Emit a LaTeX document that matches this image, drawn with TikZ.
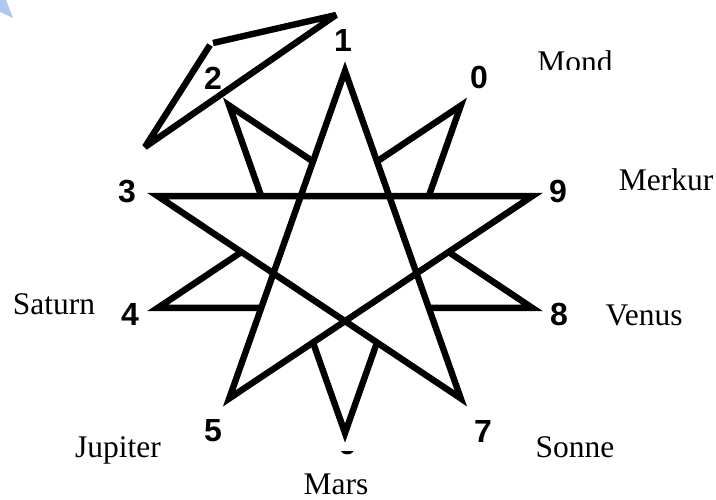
\documentclass[tikz,border=0pt]{standalone}
\usepackage{fontspec}
\setmainfont{Liberation Serif}
\newfontfamily\DekaDigitFont{Liberation Sans}

\definecolor{dksmearblue}{RGB}{176,200,240}
\def\DekaStarLW{3.2pt}
\def\DekaDigitSize{16}
\def\DekaPlanetSize{15.75}
\newcommand{\DekaStarStyles}{%
  \tikzset{
    dkline/.style={draw=black, line width=\DekaStarLW,
      line join=miter, line cap=butt},
    dkfront/.style={dkline, fill=white},
    dktriangle/.style={dkline, line join=bevel},
    dkdigit/.style={inner sep=0pt,
      font=\DekaDigitFont\bfseries\fontsize{\DekaDigitSize}{18}\selectfont},
    dkplanet/.style={inner sep=0pt, anchor=base,
      font=\fontsize{\DekaPlanetSize}{18}\selectfont},
    dksmear/.style={draw=none, fill=dksmearblue},
  }%
}

\begin{document}
\begin{tikzpicture}[x=0.5pt, y=0.5pt]
  \DekaStarStyles
  \useasboundingbox (0,0) rectangle (716,499);

  \coordinate (c) at (345,247);
  \foreach \i/\a in {1/90, 0/54, 9/18, 8/-18, 7/-54,
                     6/-90, 5/-126, 4/-162, 3/162, 2/126}
    \path (c) ++(\a:197 and 181) coordinate (v\i);

  % back pentagram, only the tips stay visible
  \draw[dkline] (v0) -- (v4) -- (v8) -- (v2) -- (v6) -- cycle;
  % front pentagram
  \filldraw[dkfront] (v1) -- (v7) -- (v3) -- (v9) -- (v5) -- cycle;

  % triangle top left
  \coordinate (t1) at (213,456);
  \coordinate (t2) at (336,484);
  \coordinate (t3) at (145,352);
  \coordinate (t4) at (210,454);
  \draw[dktriangle] (t1) -- (t2) -- (t3) -- (t4);

  \fill[dksmear] (0,499) -- (6,499) -- (13,481) -- (0,487) -- cycle;

  % numbers
  \node[dkdigit] (n1) at (343,459) {1};
  \node[dkdigit] (n2) at (213,421) {2};
  \node[dkdigit] (n3) at (127,307) {3};
  \node[dkdigit] (n4) at (130,185) {4};
  \node[dkdigit] (n5) at (213,68) {5};
  \node[dkdigit] (n7) at (483,68) {7};
  \node[dkdigit] (n8) at (559,185) {8};
  \node[dkdigit] (n9) at (558,308) {9};
  \node[dkdigit] (n0) at (479,422) {0};
  \begin{scope}
    \clip (300,0) rectangle (400,48);
    \node[dkdigit] (n6) at (347,56) {6};
  \end{scope}

  % planets
  \begin{scope}
    \clip (520,429) rectangle (640,499);
    \node[dkplanet] (mond) at (575,426.5) {Mond};
  \end{scope}
  \node[dkplanet] (merkur) at (666,309) {Merkur};
  \node[dkplanet] (saturn) at (54,185) {Saturn};
  \node[dkplanet] (venus) at (644,174) {Venus};
  \node[dkplanet] (jupiter) at (118,42) {Jupiter};
  \node[dkplanet] (sonne) at (575,42) {Sonne};
  \node[dkplanet] (mars) at (336,5) {Mars};
\end{tikzpicture}
\end{document}
